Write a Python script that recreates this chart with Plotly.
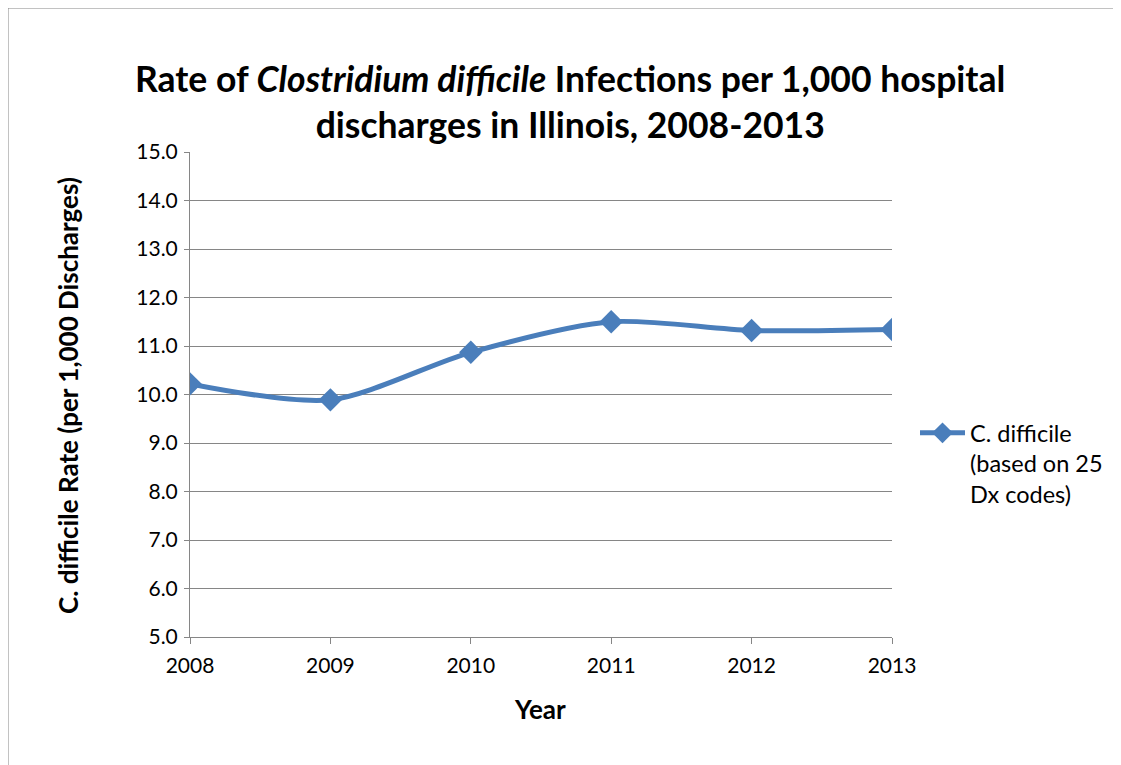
import plotly.graph_objects as go

years = [2008, 2009, 2010, 2011, 2012, 2013]
rates = [10.22, 9.89, 10.87, 11.50, 11.32, 11.34]
series_name = "C. difficile<br>(based on 25<br>Dx codes)"
y_ticks = [5.0, 6.0, 7.0, 8.0, 9.0, 10.0, 11.0, 12.0, 13.0, 14.0, 15.0]

FONT = "Lato, Carlito, Calibri, sans-serif"
W, H = 1121, 765
OX, OY = 8, 7  # page offset
# target plot area (in screenshot coords)
X0, X1, Y0, Y1 = 190, 892, 151, 636
L = X0 - OX
R = W - (X1 - OX)
T = Y0 - OY
B = H - (Y1 - OY)
pw, ph = W - L - R, H - T - B

def px(x):
    return (x - OX - L) / pw

def py(y):
    return (H - B - (y - OY)) / ph

fig = go.Figure()
fig.add_trace(go.Scatter(
    x=years, y=rates, name=series_name, mode="lines+markers",
    line=dict(color="#4A7EBB", width=5, shape="spline", smoothing=0.8),
    marker=dict(symbol="diamond", size=18, color="#4A7EBB"),
))

fig.update_layout(
    width=W, height=H,
    margin=dict(l=L, r=R, t=T, b=B, autoexpand=False),
    paper_bgcolor="white", plot_bgcolor="white",
    font=dict(family=FONT, size=21, color="black"),
    showlegend=True,
    legend=dict(x=px(915), y=py(410), xanchor="left", yanchor="top",
                font=dict(size=23.5), itemwidth=45, valign="top",
                bgcolor="rgba(0,0,0,0)", tracegroupgap=0),
    xaxis=dict(range=[2008, 2013], tickvals=years, ticktext=[str(y) for y in years],
               showgrid=False, showline=True, linecolor="#868686", linewidth=1,
               ticks="outside", ticklen=6, tickcolor="#868686", zeroline=False,
               tickfont=dict(size=21), ticklabelstandoff=4),
    yaxis=dict(range=[5, 15], tickvals=y_ticks, ticktext=["%.1f" % v for v in y_ticks],
               showgrid=True, gridcolor="#868686", gridwidth=1,
               showline=True, linecolor="#868686", linewidth=1,
               ticks="outside", ticklen=5, tickcolor="#868686", zeroline=False,
               tickfont=dict(size=21), ticklabelstandoff=2),
)

fig.add_annotation(
    xref="paper", yref="paper", x=px(570), y=py(101), xanchor="center", yanchor="middle",
    text="<b>Rate of <i>Clostridium difficile</i> Infections per 1,000 hospital</b><br><b>discharges in Illinois, 2008-2013</b>",
    showarrow=False, font=dict(size=35.5, family=FONT), align="center",
)
fig.add_annotation(
    xref="paper", yref="paper", x=px(540), y=py(708), xanchor="center", yanchor="middle",
    text="<b>Year</b>", showarrow=False, font=dict(size=26, family=FONT),
)
fig.add_annotation(
    xref="paper", yref="paper", x=px(68), y=py(395), xanchor="center", yanchor="middle",
    text="<b>C. difficile Rate (per 1,000 Discharges)</b>", textangle=-90,
    showarrow=False, font=dict(size=26, family=FONT),
)

fig.add_shape(type="rect", xref="paper", yref="paper",
              x0=px(8), x1=px(1119), y0=py(800), y1=py(7),
              line=dict(color="#868686", width=1), fillcolor="rgba(0,0,0,0)", layer="below")

fig.write_html("out.html")
